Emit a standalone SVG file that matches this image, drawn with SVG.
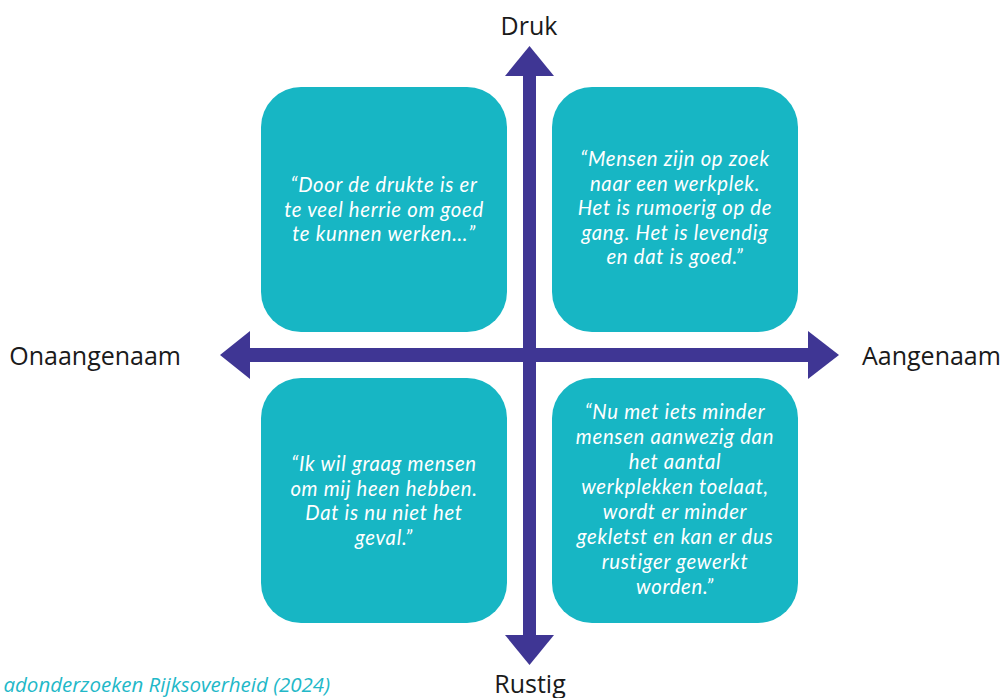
<svg xmlns="http://www.w3.org/2000/svg" width="1005" height="698" viewBox="0 0 1005 698">
<style>
.box{fill:#17B6C4}
.q{font-family:Lato,"Open Sans",sans-serif;font-style:italic;font-size:20.3px;letter-spacing:0.7px;fill:#FFFFFF;text-anchor:middle}
.lbl{font-family:"Open Sans","Liberation Sans",sans-serif;font-size:25px;fill:#1a1a1a}
.ax{fill:#3F3694}
.cap{font-family:"Open Sans","Liberation Sans",sans-serif;font-style:italic;font-size:20.5px;fill:#22B8C8}
</style>
<rect width="1005" height="698" fill="#FFFFFF"/>
<g id="node-tl">
<rect class="box" x="261" y="87" width="246" height="245" rx="40"/>
<text class="q" x="384" y="192"><tspan x="384">“Door de drukte is er</tspan><tspan x="384" dy="24.5">te veel herrie om goed</tspan><tspan x="384" dy="24.5">te kunnen werken…”</tspan></text>
</g>
<g id="node-tr">
<rect class="box" x="552" y="87" width="246" height="245" rx="40"/>
<text class="q" x="675" y="166"><tspan x="675">“Mensen zijn op zoek</tspan><tspan x="675" dy="24.5">naar een werkplek.</tspan><tspan x="675" dy="24.5">Het is rumoerig op de</tspan><tspan x="675" dy="24.5">gang. Het is levendig</tspan><tspan x="675" dy="24.5">en dat is goed.”</tspan></text>
</g>
<g id="node-bl">
<rect class="box" x="261" y="378" width="246" height="245" rx="40"/>
<text class="q" x="384" y="471"><tspan x="384">“Ik wil graag mensen</tspan><tspan x="384" dy="24.5">om mij heen hebben.</tspan><tspan x="384" dy="24.5">Dat is nu niet het</tspan><tspan x="384" dy="24.5">geval.”</tspan></text>
</g>
<g id="node-br">
<rect class="box" x="552" y="378" width="246" height="245" rx="40"/>
<text class="q" x="675" y="419"><tspan x="675">“Nu met iets minder</tspan><tspan x="675" dy="25">mensen aanwezig dan</tspan><tspan x="675" dy="25">het aantal</tspan><tspan x="675" dy="25">werkplekken toelaat,</tspan><tspan x="675" dy="25">wordt er minder</tspan><tspan x="675" dy="25">gekletst en kan er dus</tspan><tspan x="675" dy="25">rustiger gewerkt</tspan><tspan x="675" dy="25">worden.”</tspan></text>
</g>
<g id="connectors">
<rect class="ax" x="523" y="74" width="13" height="563"/>
<polygon class="ax" points="529.5,46 554,76 505,76"/>
<polygon class="ax" points="529.5,665 554,635 505,635"/>
<rect class="ax" x="248" y="348" width="562" height="14"/>
<polygon class="ax" points="220,355 250,331 250,379"/>
<polygon class="ax" points="839,355 808,331 808,379"/>
</g>
<g id="labels">
<text class="lbl" x="529" y="35" text-anchor="middle">Druk</text>
<text class="lbl" x="530" y="693" text-anchor="middle">Rustig</text>
<text class="lbl" x="181" y="365" text-anchor="end">Onaangenaam</text>
<text class="lbl" x="862" y="365">Aangenaam</text>
</g>
<text class="cap" x="330" y="692" text-anchor="end">adonderzoeken Rijksoverheid (2024)</text>
</svg>
